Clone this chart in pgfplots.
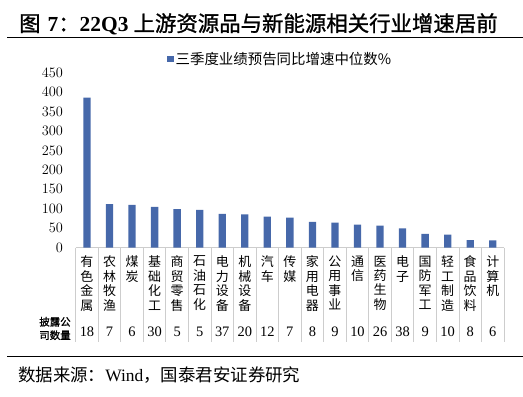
\documentclass[border=0pt]{standalone}
\usepackage{fontspec}
\setmainfont{Liberation Serif}
\newfontfamily\cjk{Noto Sans CJK SC}
\newfontfamily\cjkb[FakeBold=1.2]{Noto Sans CJK SC}
\usepackage{pgfplots}
\pgfplotsset{compat=1.18}
\definecolor{barblue}{RGB}{70,104,170}
\definecolor{gridgray}{RGB}{205,205,205}
\begin{document}
\begin{tikzpicture}[x=1bp,y=1bp,
  countlabel/.style={font=\fontsize{14.5}{14.5}\selectfont, inner sep=0pt, anchor=center, yshift=-84bp}]
\useasboundingbox (0,0) rectangle (523,396);
\draw[line width=1.1bp] (7,358.7) -- (523,358.7);
\draw[line width=1.1bp] (7,39.3) -- (523,39.3);
\node[anchor=west, inner sep=0pt, font=\fontsize{21.5}{21.5}\selectfont] at (19,372)
  {{\cjkb 图}\hspace{7bp}\textbf{7}{\cjkb ：}\textbf{22Q3}\hspace{5bp}{\cjkb 上游资源品与新能源相关行业增速居前}};
\node[anchor=west, inner sep=0pt, font=\fontsize{17.5}{17.5}\selectfont] at (18,21)
  {{\cjk 数据来源：}Wind{\cjk ，国泰君安证券研究}};
\begin{axis}[
  at={(75.7bp,148.3bp)}, anchor=south west,
  scale only axis, width=428.3bp, height=175bp,
  ymin=0, ymax=450, xmin=-0.5, xmax=18.5,
  ytick={0,50,...,450},
  xtick={0,...,18},
  xticklabels={{有\\色\\金\\属},{农\\林\\牧\\渔},{煤\\炭},{基\\础\\化\\工},{商\\贸\\零\\售},{石\\油\\石\\化},{电\\力\\设\\备},{机\\械\\设\\备},{汽\\车},{传\\媒},{家\\用\\电\\器},{公\\用\\事\\业},{通\\信},{医\\药\\生\\物},{电\\子},{国\\防\\军\\工},{轻\\工\\制\\造},{食\\品\\饮\\料},{计\\算\\机}},
  xticklabel style={anchor=north, inner sep=0pt, yshift=-8bp, align=center, font=\cjk\fontsize{13}{14.5}\selectfont},
  yticklabel style={anchor=east, inner sep=0pt, xshift=-12.5bp, font=\fontsize{14}{14}\selectfont},
  axis lines*=left,
  y axis line style={draw=none},
  x axis line style={draw=gridgray, line width=0.8bp, -},
  major tick length=0pt,
  ybar, bar width=7.3bp,
  clip=false,
  legend style={at={(0.213,1.078)}, anchor=west, draw=none, fill=none, inner sep=0pt,
    font=\cjk\fontsize{14.5}{14.5}\selectfont, legend cell align=left},
  legend image code/.code={\fill[barblue] (0bp,-3bp) rectangle (6.5bp,3.5bp);},
]
\addplot[fill=barblue, draw=none] coordinates {
(0,386) (1,112) (2,110) (3,105) (4,99) (5,97) (6,87) (7,85.5) (8,80) (9,77.6)
(10,66.5) (11,64.7) (12,59.5) (13,57) (14,50) (15,35.4) (16,33.6) (17,19.5) (18,19)};
\addlegendentry{三季度业绩预告同比增速中位数\%}
\foreach \x in {0,...,19} {
  \pgfmathsetmacro\xx{\x-0.5}
  \edef\tmp{\noexpand\draw[gridgray, line width=0.8bp] (axis cs:\xx,0) -- ([yshift=-94bp]axis cs:\xx,0);}
  \tmp
}
\foreach \c [count=\i from 0] in {18,7,6,30,5,5,37,20,12,7,8,9,10,26,38,9,10,8,6} {
  \edef\tmp{\noexpand\node[countlabel] at (axis cs:\i,0) {\c};}
  \tmp
}
\end{axis}
\node[align=center, inner sep=0pt, font=\cjkb\fontsize{10.5}{13.5}\selectfont] at (55,67.5) {披露公\\司数量};
\end{tikzpicture}
\end{document}
